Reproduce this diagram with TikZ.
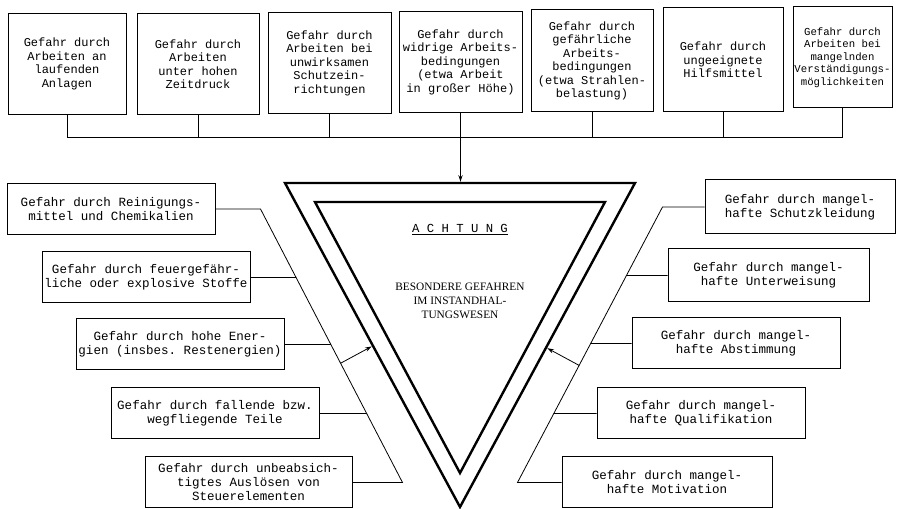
\documentclass[tikz,border=0pt]{standalone}
\usepackage{fontspec}
\setmonofont{Liberation Mono}
\newfontfamily\signfont{Liberation Serif}
\usetikzlibrary{arrows.meta,calc}
\newdimen\pxu \pxu=0.75pt

\begin{document}
\begin{tikzpicture}[x=0.75pt,y=-0.75pt,
  box/.style={draw,line width=0.75pt,align=center,inner sep=0pt},
  topbox/.style={box,font=\ttfamily\fontsize{9}{10.1}\selectfont,minimum height=101\pxu},
  sidebox/.style={box,font=\ttfamily\fontsize{9.4}{10.5}\selectfont,minimum width=208\pxu,minimum height=51\pxu},
  link/.style={line width=0.6pt},
  sign/.style={line width=1.8pt,line join=miter},
  tip/.style={link,-{Stealth[length=5pt,width=3.2pt]}}
]
\useasboundingbox (0,0) rectangle (897,509);

% hazards along the top
\node[topbox,minimum width=118\pxu] (t1) at (67,64) {Gefahr durch\\Arbeiten an\\laufenden\\Anlagen};
\node[topbox,minimum width=122\pxu] (t2) at (198,64) {Gefahr durch\\Arbeiten\\unter hohen\\Zeitdruck};
\node[topbox,minimum width=123\pxu] (t3) at (329.5,63) {Gefahr durch\\Arbeiten bei\\unwirksamen\\Schutzein-\\richtungen};
\node[topbox,minimum width=123\pxu] (t4) at (460.5,62) {Gefahr durch\\widrige Arbeits-\\bedingungen\\(etwa Arbeit\\in großer Höhe)};
\node[topbox,minimum width=122\pxu,minimum height=102\pxu] (t5) at (592,61) {Gefahr durch\\gefährliche\\Arbeits-\\bedingungen\\(etwa Strahlen-\\belastung)};
\node[topbox,minimum width=120\pxu,minimum height=104\pxu] (t6) at (723,60) {Gefahr durch\\ungeeignete\\Hilfsmittel};
\node[topbox,minimum width=99\pxu,font=\ttfamily\fontsize{8}{9.4}\selectfont] (t7) at (842.5,57.5) {Gefahr durch\\Arbeiten bei\\mangelnden\\Verständigungs-\\möglichkeiten};

% warning triangle
\coordinate (oa) at (285,183);
\coordinate (ob) at (635,183);
\coordinate (oc) at (460,507);
\coordinate (ia) at (315,202);
\coordinate (ib) at (605,202);
\coordinate (ic) at (460,473);
\draw[sign] (oa) -- (ob) -- (oc) -- cycle;
\draw[sign] (ia) -- (ib) -- (ic) -- cycle;
\node[font=\ttfamily\fontsize{9.2}{11}\selectfont] (achtung) at (460,230) {\underline{A C H T U N G}};
\node[align=center,font=\signfont\fontsize{8.5}{10.5}\selectfont] (title) at (460,301) {BESONDERE GEFAHREN\\IM INSTANDHAL-\\TUNGSWESEN};

% collecting bus from the top row
\coordinate (bus) at (0,137);
\draw[link] (t1.south) -- (t1.south |- bus) -- (t7.south |- bus) -- (t7.south);
\foreach \n in {t2,t3,t4,t5,t6} \draw[link] (\n.south) -- (\n.south |- bus);
\draw[tip,shorten >=0.9pt] (t4.south |- bus) -- (t4.south |- oa);

% hazards on the left
\node[sidebox] (l1) at (111,209) {Gefahr durch Reinigungs-\\mittel und Chemikalien};
\node[sidebox] (l2) at (146,277.5) {Gefahr durch feuergefähr-\\liche oder explosive Stoffe};
\node[sidebox] (l3) at (180,344.5) {Gefahr durch hohe Ener-\\gien (insbes. Restenergien)};
\node[sidebox] (l4) at (215,413.5) {Gefahr durch fallende bzw.\\wegfliegende Teile};
\node[sidebox,minimum width=207\pxu] (l5) at (248.5,482.5) {Gefahr durch unbeabsich-\\tigtes Auslösen von\\Steuerelementen};

\coordinate (dl1) at ($(l1.east)+(45,0)$);
\coordinate (dl2) at ($(l5.east)+(50,0)$);
\draw[link] (l1.east) -- (dl1) -- (dl2) -- (l5.east);
\foreach \n in {l2,l3,l4}
  \draw[link] (\n.east) -- (intersection of \n.east--\n.west and dl1--dl2);
\coordinate (al) at ($(dl1)!0.564!(dl2)$);
\draw[tip,shorten >=1pt] (al) -- ($(oa)!(al)!(oc)$);

% hazards on the right
\node[sidebox,minimum width=190\pxu,minimum height=54\pxu] (r1) at (800,207) {Gefahr durch mangel-\\hafte Schutzkleidung};
\node[sidebox,minimum width=201\pxu,minimum height=53\pxu] (r2) at (768.5,275.5) {Gefahr durch mangel-\\hafte Unterweisung};
\node[sidebox] (r3) at (736,343.5) {Gefahr durch mangel-\\hafte Abstimmung};
\node[sidebox] (r4) at (701,413.5) {Gefahr durch mangel-\\hafte Qualifikation};
\node[sidebox,minimum width=210\pxu] (r5) at (667,482.5) {Gefahr durch mangel-\\hafte Motivation};

\coordinate (dr1) at ($(r1.west)+(-42,0)$);
\coordinate (dr2) at ($(r5.west)+(-44,0)$);
\draw[link] (r1.west) -- (dr1) -- (dr2) -- (r5.west);
\foreach \n in {r2,r3,r4}
  \draw[link] (\n.west) -- (intersection of \n.west--\n.east and dr1--dr2);
\coordinate (ar) at ($(dr1)!0.575!(dr2)$);
\draw[tip,shorten >=1pt] (ar) -- ($(ob)!(ar)!(oc)$);
\end{tikzpicture}
\end{document}
